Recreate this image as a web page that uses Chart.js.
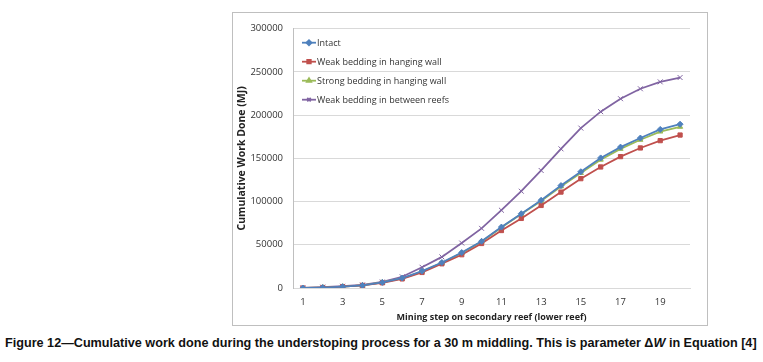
<!DOCTYPE html>
<html>
<head>
<meta charset="utf-8">
<script src="https://cdn.jsdelivr.net/npm/chart.js@4.4.1/dist/chart.umd.min.js"></script>
<style>
  html, body { margin: 0; padding: 0; background: #fff; }
  body { width: 763px; height: 362px; position: relative; overflow: hidden; }
  #box { position: absolute; left: 232px; top: 12px; width: 474px; height: 312px; border: 1px solid #bfbfbf; }
  #caption { position: absolute; left: 5px; top: 335px; white-space: nowrap;
    font-family: "Liberation Sans", Arial, sans-serif; font-weight: bold; font-size: 13px; color: #111;
    transform-origin: left top; }
</style>
</head>
<body>
<div id="box"><canvas id="chart" width="474" height="312"></canvas></div>
<div id="caption">Figure 12—Cumulative work done during the understoping process for a 30 m middling. This is parameter Δ<i>W</i> in Equation [4]</div>
<script>
/* ===== Cumulative work done chart ===== */

const steps = [1, 2, 3, 4, 5, 6, 7, 8, 9, 10, 11, 12, 13, 14, 15, 16, 17, 18, 19, 20];

const intact   = [0, 500, 1500, 3000, 6500, 11500, 19500, 29500, 41000, 54000, 70500, 86000, 101500, 118500, 134500, 150500, 163000, 173500, 183500, 189500];
const weakHW   = [0, 500, 1500, 3000, 6000, 10500, 18000, 28000, 38500, 51500, 66500, 80500, 95500, 111000, 126500, 140000, 152000, 162000, 170500, 177000];
const strongHW = [0, 500, 1500, 3000, 6500, 11000, 19000, 29000, 40500, 53500, 70000, 85500, 100500, 117500, 133000, 148500, 161000, 171500, 181000, 186500];
const between  = [0, 1000, 2000, 3500, 7000, 13000, 24000, 36000, 52000, 69000, 90000, 112000, 136000, 161000, 185000, 204000, 219000, 230500, 238500, 243500];

const seriesNames = ['Intact', 'Weak bedding in hanging wall', 'Strong bedding in hanging wall', 'Weak bedding in between reefs'];
const seriesColors = ['#4f81bd', '#c0504d', '#9bbb59', '#8064a2'];
const seriesMarkers = ['rectRot', 'rect', 'triangle', 'crossRot'];

const yTicks = [0, 50000, 100000, 150000, 200000, 250000, 300000];

const FONT = '"Open Sans", "Liberation Sans", sans-serif';

function makeSet(i, data) {
  return {
    label: seriesNames[i],
    data: data,
    borderColor: seriesColors[i],
    backgroundColor: seriesColors[i],
    pointStyle: seriesMarkers[i],
    pointRadius: i === 3 ? 3.5 : 3,
    pointBorderWidth: 1,
    borderWidth: 1.8,
    tension: 0
  };
}

// legend drawn inside the plot, top-left, like the original
const insideLegend = {
  id: 'insideLegend',
  afterDraw(chart) {
    const c = chart.ctx;
    const a = chart.chartArea;
    c.save();
    c.font = '9px ' + FONT;
    c.textBaseline = 'middle';
    seriesNames.forEach((name, i) => {
      const y = a.top + 14 + i * 19;
      const x0 = a.left + 9;
      c.strokeStyle = seriesColors[i];
      c.fillStyle = seriesColors[i];
      c.lineWidth = 1.8;
      c.beginPath(); c.moveTo(x0, y); c.lineTo(x0 + 14, y); c.stroke();
      Chart.helpers.drawPoint(c, {
        pointStyle: seriesMarkers[i], radius: 2.5, borderWidth: 1
      }, x0 + 7, y);
      c.fillStyle = '#333';
      c.fillText(name, x0 + 15, y + 0.5);
    });
    c.restore();
  }
};

new Chart(document.getElementById('chart').getContext('2d'), {
  type: 'line',
  data: {
    labels: steps,
    datasets: [makeSet(0, intact), makeSet(1, weakHW), makeSet(2, strongHW), makeSet(3, between)]
  },
  options: {
    responsive: false,
    animation: false,
    layout: { padding: { top: 15, right: 17, left: 0, bottom: 0 } },
    plugins: { legend: { display: false }, tooltip: { enabled: false } },
    scales: {
      x: {
        offset: true,
        grid: { display: false, drawTicks: false },
        border: { display: true, color: '#d9d9d9' },
        ticks: {
          autoSkip: false, maxRotation: 0, padding: 9,
          color: '#333', font: { family: FONT, size: 9.5 },
          callback: (v, i) => (i % 2 === 0 ? steps[i] : '')
        },
        title: {
          display: true, text: 'Mining step on secondary reef (lower reef)',
          color: '#222', font: { family: FONT, size: 9, weight: 'bold' },
          padding: { top: 0, bottom: 2 }
        },
        afterFit: s => { s.height = 37; }
      },
      y: {
        min: 0, max: 300000,
        afterBuildTicks: s => { s.ticks = yTicks.map(v => ({ value: v })); },
        grid: { color: '#d9d9d9', drawTicks: false },
        border: { display: true, color: '#bfbfbf' },
        ticks: {
          padding: 10, color: '#333', font: { family: FONT, size: 9.5 },
          callback: v => String(v)
        },
        title: {
          display: true, text: 'Cumulative Work Done (MJ)',
          color: '#222', font: { family: FONT, size: 10.5, weight: 'bold' },
          padding: { top: 3, bottom: 0 }
        },
        afterFit: s => { s.width = 60; }
      }
    }
  },
  plugins: [insideLegend]
});

// squeeze the caption to the width it has in the figure
const cap = document.getElementById('caption');
cap.style.transform = 'scaleX(' + (752 / cap.scrollWidth) + ')';
</script>
</body>
</html>
